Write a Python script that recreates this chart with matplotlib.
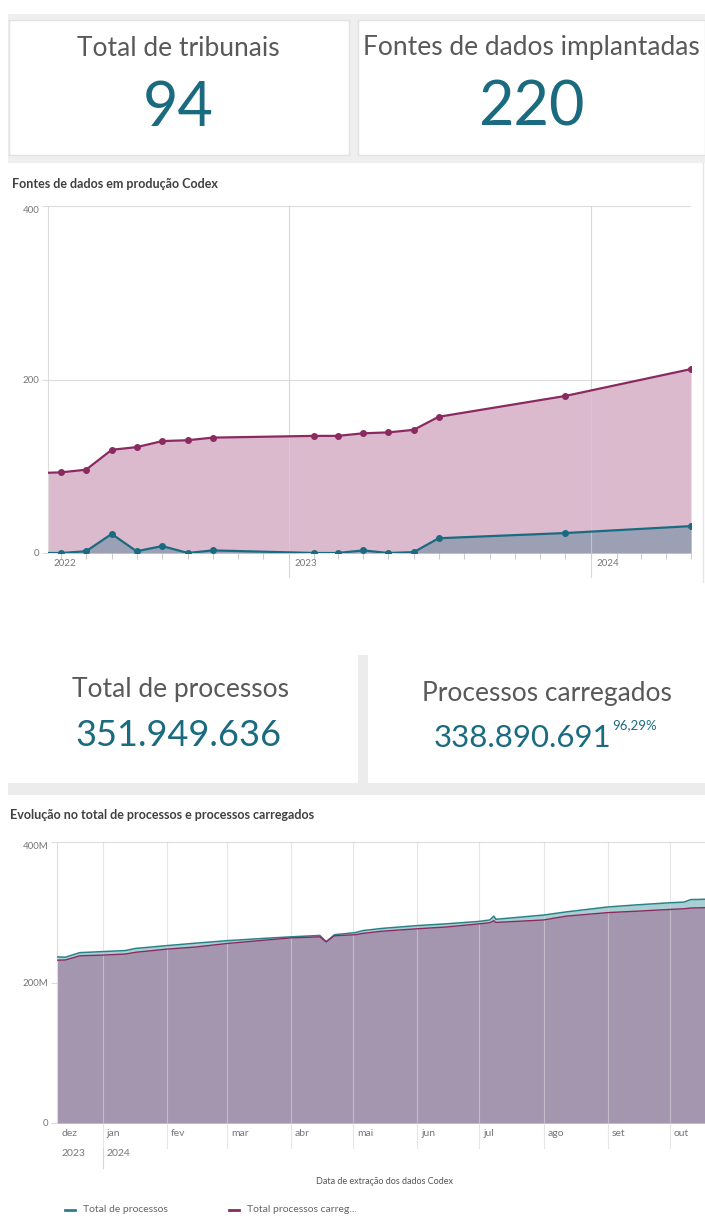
import numpy as np
import pandas as pd
import matplotlib
matplotlib.use("Agg")
import matplotlib.pyplot as plt
from matplotlib.patches import Rectangle

plt.rcParams['font.family'] = ['Lato', 'DejaVu Sans']

W, H = 705, 1216
TEAL = '#1a6b80'
PURPLE = '#8a2a60'
GRID = '#dcdcdc'
TXT = '#595959'

# KPI values
kpi_top = [("Total de tribunais", "94"), ("Fontes de dados implantadas", "220")]
kpi_mid = [("Total de processos", "351.949.636"), ("Processos carregados", "338.890.691")]
kpi_pct = "96,29%"

# chart 1: fontes de dados em producao
fontes_datas = ['2022-03-01', '2022-04-01', '2022-05-01', '2022-06-01', '2022-07-01',
                '2022-08-01', '2022-09-01', '2022-10-01', '2023-02-01', '2023-03-01',
                '2023-04-01', '2023-05-01', '2023-06-01', '2023-07-01', '2023-12-01',
                '2024-05-01']
fontes_total = [92, 93, 96, 119, 122, 129, 130, 133, 135, 135, 138, 139, 142, 157, 181, 212]
fontes_prod = [0, 0, 2, 22, 2, 8, 0, 3, 0, 0, 3, 0, 1, 17, 23, 31]

# chart 2: processos (milhoes)
proc_datas = ['2023-12-05', '2023-12-14', '2023-12-21', '2024-01-01', '2024-01-12', '2024-01-17',
              '2024-02-01', '2024-02-15', '2024-03-01', '2024-03-20', '2024-04-01', '2024-04-15',
              '2024-04-18', '2024-04-22', '2024-05-02', '2024-05-06', '2024-05-15', '2024-06-01',
              '2024-06-15', '2024-07-01', '2024-07-06', '2024-07-08', '2024-07-09', '2024-08-01',
              '2024-08-12', '2024-09-01', '2024-09-15', '2024-10-01', '2024-10-08', '2024-10-11',
              '2024-10-25']
proc_total = [237, 236, 242.5, 244, 245.5, 248.5, 252.5, 256, 259.5, 263, 265, 267,
              258, 268, 271, 274, 277, 281, 283.5, 287, 289, 294.5, 290, 296,
              300.5, 307.5, 310.5, 313.5, 314.5, 318, 319]
proc_carreg = [231.5, 232, 238, 239, 240.5, 243, 247.5, 250.5, 255.5, 260.5, 263.5, 265,
               258, 266.5, 268, 270, 273, 276.5, 279, 283.5, 285, 288, 285.5, 289,
               294.5, 299.5, 301.5, 304, 305, 306, 307]
meses = ['dez', 'jan', 'fev', 'mar', 'abr', 'mai', 'jun', 'jul', 'ago', 'set', 'out']


def fx(x):
    return x / W


def fy(y):
    return 1 - y / H


def rect(fig, x0, y0, x1, y1, fc, ec='none', lw=0):
    fig.patches.append(Rectangle((fx(x0), fy(y1)), fx(x1) - fx(x0), (y1 - y0) / H,
                                 transform=fig.transFigure, fc=fc, ec=ec, lw=lw, zorder=-5))


fig = plt.figure(figsize=(W / 100, H / 100), dpi=100)
fig.patch.set_facecolor('white')

# card backgrounds
rect(fig, 8, 14, 705, 163, '#efefef')
rect(fig, 9, 20, 349, 155, 'white', '#e2e2e2', 1)
rect(fig, 358, 20, 705, 155, 'white', '#e2e2e2', 1)
fig.lines.append(plt.Line2D([fx(703), fx(703)], [fy(163), fy(582)], color='#e6e6e6', lw=1,
                            transform=fig.transFigure))
rect(fig, 358, 655, 368, 783, '#ececec')
rect(fig, 8, 783, 705, 795, '#ececec')

# top KPIs
for (lab, val), cx in zip(kpi_top, [178, 531]):
    fig.text(fx(cx), fy(48), lab, ha='center', va='center', fontsize=19, color=TXT)
    fig.text(fx(cx), fy(108), val, ha='center', va='center', fontsize=44, color=TEAL)

# mid KPIs
fig.text(fx(180), fy(690), kpi_mid[0][0], ha='center', va='center', fontsize=19, color=TXT)
fig.text(fx(178), fy(736), kpi_mid[0][1], ha='center', va='center', fontsize=26, color=TEAL)
fig.text(fx(547), fy(694), kpi_mid[1][0], ha='center', va='center', fontsize=19, color=TXT)
fig.text(fx(611), fy(738), kpi_mid[1][1], ha='right', va='center', fontsize=22.5, color=TEAL)
fig.text(fx(612), fy(725), kpi_pct, ha='left', va='center', fontsize=9.5, color=TEAL)

# ---------- chart 1 ----------
fig.text(fx(12), fy(184), "Fontes de dados em produção Codex", ha='left', va='center',
         fontsize=9, color='#404040', fontweight='bold')
ax1 = fig.add_axes([fx(48), fy(553), fx(691) - fx(48), (553 - 206) / H])
ax1.set_zorder(2)
d1 = pd.to_datetime(fontes_datas)
ax1.fill_between(d1, 0, fontes_total, color='#dbbace', lw=0, zorder=1)
ax1.fill_between(d1, 0, fontes_prod, color='#9ba0b5', lw=0, zorder=2)
ax1.plot(d1, fontes_total, color=PURPLE, lw=1.6, marker='o', ms=4, zorder=4)
ax1.plot(d1, fontes_prod, color=TEAL, lw=1.6, marker='o', ms=4, zorder=4)
ax1.set_xlim(pd.Timestamp('2022-03-16'), pd.Timestamp('2024-05-01'))
ax1.set_ylim(0, 400)
ax1.set_yticks([0, 200, 400])
ax1.set_yticklabels(['0', '200', '400'])
ax1.tick_params(axis='y', length=4, color=GRID, labelsize=7, labelcolor='#777777', pad=2)
ax1.get_yticklabels()[-1].set_va('top')
ax1.set_xticks(pd.date_range('2022-04-01', '2024-05-01', freq='MS'))
ax1.set_xticklabels([])
ax1.tick_params(axis='x', length=4, color='#cccccc')
for yy in [200, 400]:
    ax1.axhline(yy, color=GRID, lw=0.8, zorder=0)
for yr in ['2023-01-01', '2024-01-01']:
    ax1.axvline(pd.Timestamp(yr), ymin=-0.07, ymax=1, color='#cfcfcf', lw=0.8, zorder=3,
                clip_on=False, alpha=0.8)
for yr, lab in [('2022-03-16', '2022'), ('2023-01-01', '2023'), ('2024-01-01', '2024')]:
    ax1.annotate(lab, (pd.Timestamp(yr), 0), xycoords=('data', 'axes fraction'),
                 xytext=(4, -4), textcoords='offset points', ha='left', va='top',
                 fontsize=7, color='#777777')
for s in ['top', 'right', 'bottom']:
    ax1.spines[s].set_visible(False)
ax1.spines['left'].set_color(GRID)
ax1.set_facecolor('none')

# ---------- chart 2 ----------
fig.text(fx(10), fy(815), "Evolução no total de processos e processos carregados", ha='left',
         va='center', fontsize=9, color='#404040', fontweight='bold')
ax2 = fig.add_axes([fx(57), fy(1123), fx(705) - fx(57), (1123 - 842) / H])
ax2.set_zorder(2)
d2 = pd.to_datetime(proc_datas)
tot = np.array(proc_total) * 1e6
car = np.array(proc_carreg) * 1e6
ax2.fill_between(d2, 0, tot, color='#a9cfd3', lw=0, zorder=1)
ax2.fill_between(d2, 0, car, color='#a596b0', lw=0, zorder=2)
ax2.plot(d2, tot, color='#2a8289', lw=1.1, zorder=4)
ax2.plot(d2, car, color=PURPLE, lw=1.0, zorder=4)
ax2.set_xlim(pd.Timestamp('2023-12-10'), pd.Timestamp('2024-10-18'))
ax2.set_ylim(0, 400e6)
ax2.set_yticks([0, 200e6, 400e6])
ax2.set_yticklabels(['0', '200M', '400M'])
ax2.tick_params(axis='y', length=4, color=GRID, labelsize=7, labelcolor='#777777', pad=2)
ax2.get_yticklabels()[-1].set_va('top')
ax2.set_xticks([])
ax2.axhline(200e6, color=GRID, lw=0.8, zorder=0)
ax2.axhline(400e6, color=GRID, lw=0.8, zorder=0)
mstarts = pd.date_range('2024-01-01', '2024-10-01', freq='MS')
for m in mstarts:
    ax2.axvline(m, ymin=-0.09, ymax=1, color='#d6d6d6', lw=0.8, zorder=3, clip_on=False,
                alpha=0.6)
ax2.axvline(pd.Timestamp('2024-01-01'), ymin=-0.16, ymax=-0.09, color='#d6d6d6', lw=0.8,
            clip_on=False)
for m, lab in zip([pd.Timestamp('2023-12-10')] + list(mstarts), meses):
    ax2.annotate(lab, (m, 0), xycoords=('data', 'axes fraction'), xytext=(3, -4),
                 textcoords='offset points', ha='left', va='top', fontsize=7.5, color='#777777')
for d, lab in [(pd.Timestamp('2023-12-10'), '2023'), (pd.Timestamp('2024-01-01'), '2024')]:
    ax2.annotate(lab, (d, 0), xycoords=('data', 'axes fraction'), xytext=(3, -19),
                 textcoords='offset points', ha='left', va='top', fontsize=7.5, color='#777777')
for s in ['top', 'right', 'bottom']:
    ax2.spines[s].set_visible(False)
ax2.spines['left'].set_color(GRID)
ax2.set_facecolor('none')

fig.text(fx(385), fy(1182), "Data de extração dos dados Codex", ha='center', va='center',
         fontsize=6.5, color='#555555')
fig.lines.append(plt.Line2D([fx(65), fx(75)], [fy(1210), fy(1210)], color='#2a8289', lw=2,
                            transform=fig.transFigure))
fig.text(fx(83), fy(1210), "Total de processos", ha='left', va='center', fontsize=7.5,
         color='#666666')
fig.lines.append(plt.Line2D([fx(229), fx(239)], [fy(1210), fy(1210)], color=PURPLE, lw=2,
                            transform=fig.transFigure))
fig.text(fx(247), fy(1210), "Total processos carreg...", ha='left', va='center', fontsize=7.5,
         color='#666666')

fig.savefig('out.png', dpi=100)
